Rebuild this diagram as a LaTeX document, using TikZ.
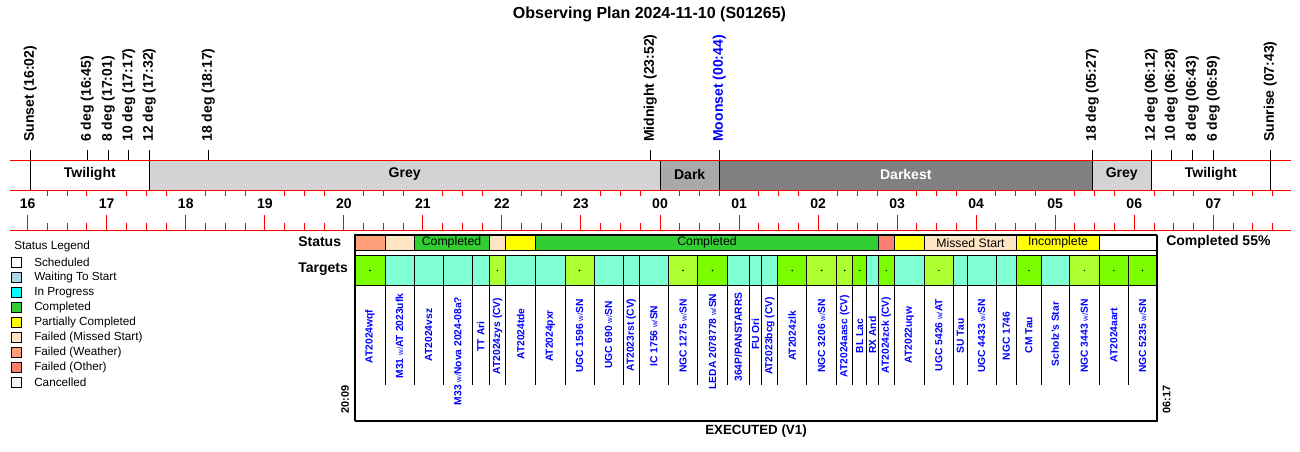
\documentclass[tikz,border=0pt]{standalone}
\usepackage{fontspec}
\setmainfont{Liberation Sans}
\definecolor{lgreen}{HTML}{7CFC00}
\definecolor{gyellow}{HTML}{ADFF2F}
\definecolor{aqua}{HTML}{7FFFD4}
\definecolor{greyc}{HTML}{D3D3D3}
\definecolor{darkc}{HTML}{A9A9A9}
\definecolor{darkestc}{HTML}{808080}
\definecolor{limec}{HTML}{32CD32}
\definecolor{bisquec}{HTML}{FFE4C4}
\definecolor{lsalmon}{HTML}{FFA07A}
\definecolor{salmonc}{HTML}{FA8072}
\definecolor{lblue}{HTML}{ADD8E6}
\definecolor{cyanc}{HTML}{00FFFF}
\definecolor{yellowc}{HTML}{FFFF00}
\definecolor{wsmoke}{HTML}{F5F5F5}
\newcommand\wsm{{\fontsize{5.8}{6}\selectfont\mdseries w/}}
\newcommand\slh{/}
\begin{document}
\begin{tikzpicture}[x=0.75pt,y=-0.75pt,
  ttl/.style={inner sep=0pt,font=\fontsize{12}{14}\selectfont\bfseries},
  evl/.style={rotate=90,anchor=west,inner sep=0pt,font=\fontsize{10.5}{12}\selectfont\bfseries},
  bandl/.style={inner sep=0pt,font=\fontsize{10.5}{12}\selectfont\bfseries},
  hrl/.style={inner sep=0pt,font=\fontsize{10.5}{12}\selectfont\bfseries},
  redl/.style={draw=red,line width=0.75pt},
  evline/.style={draw=black,line width=0.75pt},
  stl/.style={inner sep=0pt,font=\fontsize{9.2}{10}\selectfont},
  tgl/.style={rotate=90,inner sep=0pt,text=blue,font=\fontsize{7.7}{9}\selectfont\bfseries},
  legbox/.style={draw=black,line width=0.75pt,minimum size=7.2pt,inner sep=0pt},
  legl/.style={anchor=west,inner sep=0pt,font=\fontsize{8.8}{10}\selectfont},
  hdr/.style={anchor=west,inner sep=0pt,font=\fontsize{10.5}{12}\selectfont\bfseries},
  cellbox/.style={draw=black,line width=0.75pt},
  tml/.style={rotate=90,anchor=west,inner sep=0pt,font=\fontsize{8.2}{10}\selectfont\bfseries}]
\useasboundingbox (0,0) rectangle (1300,451);
\node[ttl] (title) at (649.5,14) {Observing Plan 2024-11-10 (S01265)};
% bands
\fill[greyc] (149.3,160) rectangle (660,190);
\fill[darkc] (660,160) rectangle (719.3,190);
\fill[darkestc] (719.3,160) rectangle (1092.3,190);
\fill[greyc] (1092.3,160) rectangle (1151.3,190);
\node[bandl] (b1) at (89.8,174) {Twilight};
\node[bandl] (b2) at (404.7,174) {Grey};
\node[bandl] (b3) at (689.7,174) {Dark};
\node[bandl,text=white] (b4) at (905.8,174) {Darkest};
\node[bandl] (b5) at (1121.8,174) {Grey};
\node[bandl] (b6) at (1210.8,174) {Twilight};
% event lines
\foreach \x in {30.3,149.3,1092.3,1151.3,1270.3} \draw[evline] (\x,150) -- (\x,190);
\foreach \x in {87.3,108.3,128.7,208.3,650.3,1171.3,1192.3,1213.3} \draw[evline] (\x,150) -- (\x,160);
\draw[evline] (660,160) -- (660,190);
\draw[evline] (719.3,160) -- (719.3,190);
\draw[blue,line width=0.75pt] (719.3,150) -- (719.3,160);
\foreach \x/\t [count=\n] in {30.3/Sunset (16:02),87.3/6 deg (16:45),108.3/8 deg (17:01),128.7/10 deg (17:17),149.3/12 deg (17:32),208.3/18 deg (18:17),650.3/Midnight (23:52),1092.3/18 deg (05:27),1151.3/12 deg (06:12),1171.3/10 deg (06:28),1192.3/8 deg (06:43),1213.3/6 deg (06:59),1270.3/Sunrise (07:43)}
  \node[evl] (ev\n) at (\x,142) {\t};
\node[evl,text=blue] (moon) at (719.3,142) {Moonset (00:44)};
% red axis
\draw[redl] (10,160) -- (1291,160);
\draw[redl] (10,190) -- (1291,190);
\draw[redl] (10,230) -- (1291,230);
\foreach \q in {0,...,63} {
  \pgfmathsetmacro\xx{27.7+19.76*\q}
  \pgfmathtruncatemacro\m{mod(\q,4)}
  \ifnum\m=0
    \draw[redl] (\xx,215) -- (\xx,230);
  \else
    \draw[redl] (\xx,190) -- (\xx,196);
    \draw[redl] (\xx,222.7) -- (\xx,230);
  \fi
}
\foreach \i in {0,...,15} {
  \pgfmathsetmacro\xx{27.7+79.04*\i}
  \pgfmathtruncatemacro\hh{mod(16+\i,24)}
  \node[hrl] (hr\i) at (\xx,204) {\ifnum\hh<10 0\fi\hh};
}
% headers
\node[hdr] (stath) at (298,242) {Status};
\node[hdr] (targh) at (298,269) {Targets};
\node[hdr] (pct) at (1166,242) {Completed 55\%};
% status row
\foreach \a/\b/\c in {355/385/lsalmon,385/414/bisquec,414/489/limec,489/505.7/bisquec,505.7/535.7/yellowc,535.7/878.3/limec,878.3/894.3/salmonc,894.3/924.3/yellowc,924.3/1016.7/bisquec,1016.7/1099.3/yellowc,1099.3/1156.7/white}
  \draw[cellbox,fill=\c] (\a,235) rectangle (\b,250.7);
\node[stl] (s1) at (451.5,242.7) {Completed};
\node[stl] (s2) at (707,242.7) {Completed};
\node[stl] (s3) at (970.5,242.7) {Missed Start};
\node[stl] (s4) at (1058,242.7) {Incomplete};
% targets
\foreach \a/\b/\c/\d/\e/\f [count=\n] in {
355/385/lgreen/1/AT2024wqf/336.5,
385/414/aqua/0/M31 \wsm AT 2023ufk/336,
414/443.3/aqua/0/AT2024vsz/335,
443.3/472.3/aqua/0/M33 \wsm Nova 2024-08a?/351,
472.3/489/aqua/0/TT Ari/336.5,
489/505.7/gyellow/1/AT2024zys (CV)/336,
505.7/535.7/aqua/0/AT2024tde/334,
535.7/565/aqua/0/AT2024pxr/336,
565/594/gyellow/1/UGC 1596 \wsm SN/336,
594/623.3/aqua/0/UGC 690 \wsm SN/335,
623.3/639.3/aqua/0/AT2023rst (CV)/335,
639.3/668.3/aqua/0/IC 1756 \wsm SN/336,
668.3/697.7/gyellow/1/NGC 1275 \wsm SN/336,
697.7/727.3/lgreen/1/LEDA 2078778 \wsm SN/341.5,
727.3/749.3/aqua/0/364P\slh PANSTARRS/337,
749.3/761.7/aqua/0/FU Ori/334,
761.7/777.7/aqua/0/AT2023bcg (CV)/336,
777.7/806.7/lgreen/1/AT2024zlk/336,
806.7/836.7/gyellow/1/NGC 3206 \wsm SN/336,
836.7/852.7/gyellow/1/AT2024aasc (CV)/336,
852.7/866.7/lgreen/1/BL Lac/336,
866.7/878.3/aqua/0/RX And/335,
878.3/894.3/lgreen/1/AT2024zck (CV)/335,
894.3/924.3/aqua/0/AT2022uqw/335,
924.3/953.3/gyellow/1/UGC 5426 \wsm AT/335,
953.3/967.3/aqua/0/SU Tau/336,
967.3/996/aqua/0/UGC 4433 \wsm SN/336,
996/1016.7/aqua/0/NGC 1746/336,
1016.7/1041/lgreen/1/CM Tau/335,
1041/1069.3/aqua/0/Scholz's Star/334,
1069.3/1099.3/gyellow/1/NGC 3443 \wsm SN/336,
1099.3/1128.3/lgreen/1/AT2024aart/335,
1128.3/1156.7/lgreen/1/NGC 5235 \wsm SN/336}
{
  \draw[cellbox,fill=\c] (\a,255.7) rectangle (\b,285.3);
  \draw[cellbox] (\b,285.3) -- (\b,385);
  \ifnum\d=1 \fill[black] ({(\a+\b)/2},270.5) circle[radius=0.6pt]; \fi
  \node[tgl] (tg\n) at ({(\a+\b)/2},\f) {\e};
}
% outer box
\draw[line width=0.9pt] (1156.7,235) -- (355,235) -- (355,421);
\draw[line width=1.3pt] (355,421) -- (1156.7,421) -- (1156.7,235);
\node[tml] (t1) at (345,413.5) {20:09};
\node[tml] (t2) at (1166.7,413.5) {06:17};
\node[inner sep=0pt,font=\fontsize{10}{12}\selectfont\bfseries] (exe) at (756,431) {EXECUTED (V1)};
% legend
\node[legl] (lgt) at (14,246) {Status Legend};
\foreach \c/\t [count=\n] in {white/Scheduled,lblue/Waiting To Start,cyanc/In Progress,limec/Completed,yellowc/Partially Completed,bisquec/Failed (Missed Start),lsalmon/Failed (Weather),salmonc/Failed (Other),wsmoke/Cancelled} {
  \node[legbox,fill=\c] (lb\n) at (16.5,{247.3+15*\n}) {};
  \node[legl] (ll\n) at (34,{247.3+15*\n}) {\t};
}
\end{tikzpicture}
\end{document}
